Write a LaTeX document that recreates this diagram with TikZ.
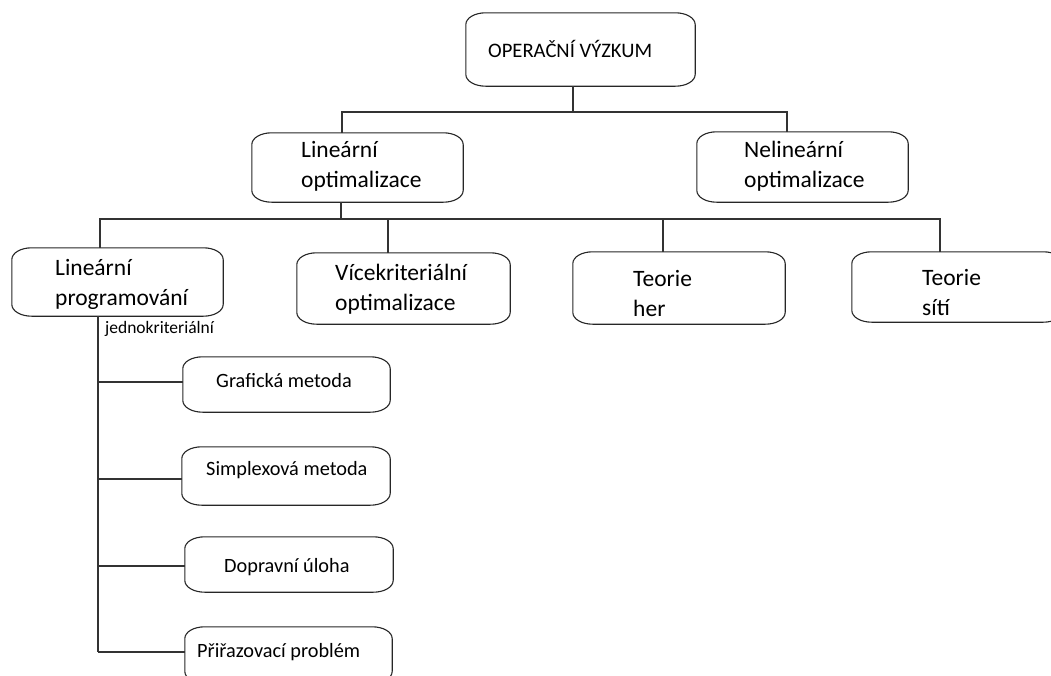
\documentclass[tikz,border=0pt]{standalone}
\usepackage{fontspec}
\setmainfont{Carlito}
\usetikzlibrary{calc}
\tikzset{
  boxn/.style={draw=none, inner sep=0pt, rectangle},
  boxline/.style={draw=black!85, line width=1.1pt},
  conn/.style={draw=black!80, line width=1.2pt},
  tbig/.style={inner sep=0pt, anchor=base west, align=left, font=\fontsize{23.5}{29.5}\selectfont},
  tmid/.style={inner sep=0pt, anchor=base west, align=left, font=\fontsize{20.3}{24}\selectfont},
  tsmall/.style={inner sep=0pt, anchor=base west, font=\fontsize{17.5}{20}\selectfont},
}
\newcommand\ebox[1]{%
 \draw[boxline] ($(#1.north west)+(0,12)$) .. controls ($(#1.north west)+(0,5)$) and ($(#1.north west)+(9,0)$) .. ($(#1.north west)+(20,0)$)
 -- ($(#1.north east)+(-20,0)$) .. controls ($(#1.north east)+(-9,0)$) and ($(#1.north east)+(0,5)$) .. ($(#1.north east)+(0,12)$)
 -- ($(#1.south east)+(0,-12)$) .. controls ($(#1.south east)+(0,-5)$) and ($(#1.south east)+(-9,0)$) .. ($(#1.south east)+(-20,0)$)
 -- ($(#1.south west)+(20,0)$) .. controls ($(#1.south west)+(9,0)$) and ($(#1.south west)+(0,-5)$) .. ($(#1.south west)+(0,-12)$) -- cycle;}
\begin{document}
\begin{tikzpicture}[x=1pt,y=-1pt]
\useasboundingbox (0,0) rectangle (1051,675);
\clip (0,0) rectangle (1051,675);
% boxes
\node[boxn, minimum width=229pt, minimum height=73pt] (or) at (580.5,49.5) {};
\node[boxn, minimum width=211pt, minimum height=69pt] (lo) at (357.5,167.5) {};
\node[boxn, minimum width=211pt, minimum height=70pt] (nlo) at (802.5,167) {};
\node[boxn, minimum width=211pt, minimum height=68pt] (lp) at (117.5,282) {};
\node[boxn, minimum width=213pt, minimum height=71pt] (vk) at (403.5,288.5) {};
\node[boxn, minimum width=212pt, minimum height=72pt] (th) at (679,288) {};
\node[boxn, minimum width=211pt, minimum height=70pt] (ts) at (957.5,287) {};
\node[boxn, minimum width=207pt, minimum height=55pt] (gm) at (286.5,384.5) {};
\node[boxn, minimum width=208pt, minimum height=58pt] (sm) at (286,476) {};
\node[boxn, minimum width=208pt, minimum height=55pt] (dp) at (289,564.5) {};
\node[boxn, minimum width=207pt, minimum height=56pt] (pp) at (288.5,655) {};
\foreach \n in {or,lo,nlo,lp,vk,th,ts,gm,sm,dp,pp} {\ebox{\n}}
% texts (base anchor = last line baseline)
\node[inner sep=0pt, anchor=base west, font=\fontsize{20.6}{24}\selectfont] (or-t) at (488,57) {OPERAČNÍ VÝZKUM};
\node[tbig] (lo-t) at (301,187) {Lineární\\optimalizace};
\node[tbig] (nlo-t) at (744,187) {Nelineární\\optimalizace};
\node[tbig] (lp-t) at (55,305) {Lineární\\programování};
\node[tbig] (vk-t) at (335,310) {Vícekriteriální\\optimalizace};
\node[tbig] (th-t) at (633,316) {Teorie\\her};
\node[tbig] (ts-t) at (922,315) {Teorie\\sítí};
\node[tsmall] (jk) at (105,333) {jednokriteriální};
\node[tmid] (gm-t) at (216,387) {Grafická metoda};
\node[tmid] (sm-t) at (206,475) {Simplexová metoda};
\node[tmid] (dp-t) at (224,572) {Dopravní úloha};
\node[tmid] (pp-t) at (197,657) {Přiřazovací problém};
% bus coordinates
\coordinate (b0) at (573,112);
\coordinate (b1L) at (342,112);
\coordinate (b1R) at (787,112);
\coordinate (b2) at (341,219);
\coordinate (b2a) at (100,219);
\coordinate (b2b) at (388,219);
\coordinate (b2c) at (663,219);
\coordinate (b2d) at (940,219);
\coordinate (v0) at (98,316);
\coordinate (t1) at (98,382);
\coordinate (t2) at (98,479);
\coordinate (t3) at (98,566);
\coordinate (t4) at (98,652);
% connectors
\draw[conn] (b0 |- or.south) -- (b0);
\draw[conn] (b1L |- lo.north) -- (b1L) -- (b1R) -- (b1R |- nlo.north);
\draw[conn] (b2 |- lo.south) -- (b2);
\draw[conn] (b2a |- lp.north) -- (b2a) -- (b2d) -- (b2d |- ts.north);
\draw[conn] (b2b) -- (b2b |- vk.north);
\draw[conn] (b2c) -- (b2c |- th.north);
\draw[conn] (v0 |- lp.south) -- (t4);
\draw[conn] (t1) -- (t1 -| gm.west);
\draw[conn] (t2) -- (t2 -| sm.west);
\draw[conn] (t3) -- (t3 -| dp.west);
\draw[conn] (t4) -- (t4 -| pp.west);
\end{tikzpicture}
\end{document}
